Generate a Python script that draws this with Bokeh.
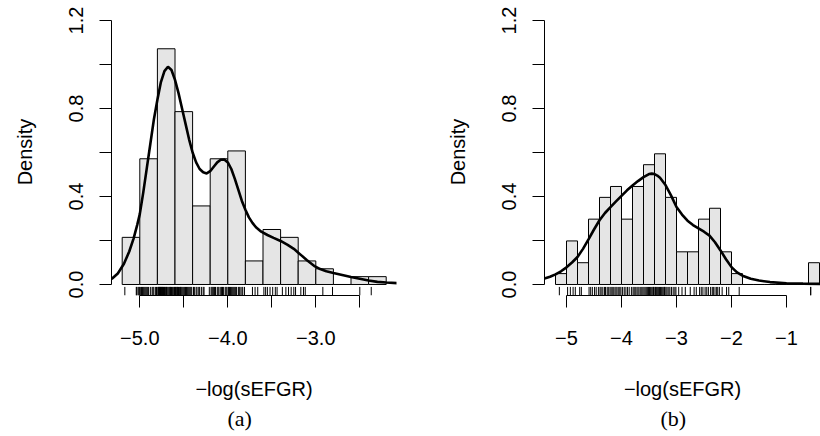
import math
from bokeh.plotting import figure
from bokeh.layouts import row
from bokeh.models import FixedTicker, Range1d, Title
from bokeh.embed import file_html
from bokeh.resources import INLINE

# ---------------- data ----------------
# Panel (a)
a_edges = [-5.2, -5.0, -4.8, -4.6, -4.4, -4.2, -4.0, -3.8, -3.6, -3.4, -3.2, -3.0, -2.8, -2.6, -2.4, -2.2]
a_counts = [6, 16, 30, 22, 10, 16, 17, 3, 7, 6, 3, 2, 0, 1, 1]
a_rug = [-5.17, -5.04, -5.035, -5.02, -5.01, -5.005,
         -4.99, -4.98, -4.97, -4.96, -4.95, -4.94, -4.93, -4.92, -4.91, -4.90, -4.88, -4.86, -4.85,
         -4.84, -4.82, -4.81,
         -4.795, -4.79, -4.785, -4.78, -4.775, -4.77, -4.765, -4.76, -4.755, -4.75, -4.745, -4.74,
         -4.735, -4.73, -4.72, -4.715, -4.71, -4.70, -4.695, -4.69, -4.68, -4.67, -4.66, -4.655,
         -4.65, -4.64, -4.63, -4.62, -4.61, -4.605,
         -4.595, -4.59, -4.58, -4.575, -4.57, -4.56, -4.55, -4.54, -4.535, -4.53, -4.52, -4.51,
         -4.50, -4.49, -4.48, -4.47, -4.46, -4.45, -4.44, -4.43, -4.42, -4.41,
         -4.39, -4.38, -4.36, -4.35, -4.33, -4.32, -4.30, -4.28, -4.27, -4.21,
         -4.19, -4.18, -4.17, -4.16, -4.15, -4.14, -4.12, -4.11, -4.10, -4.08, -4.07, -4.06, -4.05,
         -4.03, -4.02, -4.01,
         -3.995, -3.99, -3.98, -3.97, -3.96, -3.95, -3.94, -3.93, -3.92, -3.91, -3.90, -3.88, -3.87,
         -3.86, -3.84, -3.83, -3.81,
         -3.72, -3.69, -3.66,
         -3.59, -3.57, -3.55, -3.52, -3.49, -3.46, -3.44,
         -3.38, -3.34, -3.31, -3.28, -3.25, -3.23,
         -3.17, -3.14, -3.12,
         -2.92, -2.81,
         -2.50,
         -2.37]
a_dens_x = [-5.32, -5.25, -5.18, -5.12, -5.07, -5.03, -5.00, -4.96, -4.92, -4.88, -4.84, -4.80, -4.76,
            -4.72, -4.68, -4.64, -4.60, -4.56, -4.52, -4.48, -4.44, -4.40, -4.36, -4.32, -4.28, -4.24,
            -4.20, -4.16, -4.12, -4.08, -4.04, -4.00, -3.96, -3.92, -3.88, -3.84, -3.80, -3.76, -3.72,
            -3.68, -3.62, -3.55, -3.48, -3.40, -3.32, -3.25, -3.18, -3.10, -3.02, -2.95, -2.88, -2.80,
            -2.70, -2.60, -2.50, -2.40, -2.30, -2.20, -2.07]
a_dens_y = [0.025, 0.05, 0.094, 0.15, 0.21, 0.27, 0.32, 0.42, 0.53, 0.64, 0.75, 0.84, 0.92,
            0.97, 0.99, 0.975, 0.93, 0.87, 0.80, 0.73, 0.66, 0.60, 0.555, 0.525, 0.51, 0.505,
            0.515, 0.535, 0.555, 0.567, 0.568, 0.555, 0.525, 0.48, 0.43, 0.38, 0.34, 0.305, 0.28,
            0.26, 0.24, 0.225, 0.212, 0.198, 0.18, 0.162, 0.138, 0.11, 0.085, 0.07, 0.06, 0.052,
            0.043, 0.034, 0.026, 0.018, 0.012, 0.009, 0.006]
a_ticks = [-5.0, -4.5, -4.0, -3.5, -3.0, -2.5]
a_tick_labels = ["\u22125.0", "", "\u22124.0", "", "\u22123.0", ""]

# Panel (b)
b_edges = [-5.2, -5.0, -4.8, -4.6, -4.4, -4.2, -4.0, -3.8, -3.6, -3.4, -3.2, -3.0, -2.8, -2.6, -2.4,
           -2.2, -2.0, -1.8, -1.6, -1.4, -1.2, -1.0, -0.8, -0.6, -0.4]
b_counts = [1, 4, 2, 6, 8, 9, 6, 9, 11, 12, 8, 3, 3, 6, 7, 3, 1, 0, 0, 0, 0, 0, 0, 2]
b_rug = [-5.13,
         -4.98, -4.93, -4.88, -4.84,
         -4.76, -4.73,
         -4.59, -4.56, -4.53, -4.49, -4.46, -4.42,
         -4.39, -4.37, -4.34, -4.31, -4.29, -4.26, -4.24, -4.21,
         -4.19, -4.17, -4.15, -4.12, -4.10, -4.08, -4.05, -4.03, -4.01,
         -3.98, -3.95, -3.92, -3.89, -3.86, -3.82,
         -3.79, -3.77, -3.75, -3.72, -3.70, -3.68, -3.65, -3.63, -3.61,
         -3.59, -3.57, -3.55, -3.53, -3.51, -3.49, -3.47, -3.45, -3.43, -3.42, -3.41,
         -3.39, -3.38, -3.36, -3.35, -3.33, -3.31, -3.29, -3.27, -3.25, -3.23, -3.22, -3.21,
         -3.19, -3.17, -3.14, -3.12, -3.09, -3.06, -3.03, -3.01,
         -2.96, -2.90, -2.84,
         -2.75, -2.68, -2.64,
         -2.58, -2.55, -2.52, -2.48, -2.45, -2.42,
         -2.38, -2.35, -2.33, -2.30, -2.27, -2.25, -2.22,
         -2.17, -2.09, -2.05,
         -1.86,
         -0.56, -0.56]
b_dens_x = [-5.40, -5.30, -5.20, -5.10, -5.00, -4.90, -4.80, -4.70, -4.60, -4.50, -4.40, -4.30, -4.20,
            -4.10, -4.00, -3.90, -3.80, -3.70, -3.60, -3.50, -3.45, -3.40, -3.35, -3.30, -3.20, -3.10,
            -3.00, -2.90, -2.80, -2.70, -2.60, -2.50, -2.40, -2.30, -2.20, -2.10, -2.00, -1.90, -1.80,
            -1.65, -1.50, -1.30, -1.00, -0.70, -0.40, -0.38]
b_dens_y = [0.027, 0.035, 0.046, 0.06, 0.078, 0.10, 0.125, 0.162, 0.205, 0.25, 0.292, 0.325, 0.352,
            0.378, 0.403, 0.428, 0.45, 0.47, 0.488, 0.502, 0.504, 0.502, 0.495, 0.485, 0.452, 0.405,
            0.352, 0.318, 0.29, 0.27, 0.255, 0.24, 0.222, 0.192, 0.155, 0.115, 0.079, 0.055, 0.04,
            0.026, 0.018, 0.011, 0.006, 0.004, 0.003, 0.003]
b_ticks = [-5, -4, -3, -2, -1]
b_tick_labels = ["\u22125", "\u22124", "\u22123", "\u22122", "\u22121"]

y_ticks = [0.0, 0.2, 0.4, 0.6, 0.8, 1.0, 1.2]
y_tick_labels = ["0.0", "", "0.4", "", "0.8", "", "1.2"]

x_label = "\u2212log(sEFGR)"
SANS = "Liberation Sans"
SERIF = "Liberation Serif"

FIG_H = 436
FRAME_TOP = 8
FRAME_BOTTOM = 295


def panel(edges, counts, rug, dx, dy, ticks, tick_labels, x_start, x_end, frame_w, width, ml, tag):
    n = sum(counts)
    dens = [c / (n * (edges[i + 1] - edges[i])) for i, c in enumerate(counts)]
    p = figure(width=width, height=FIG_H, x_range=Range1d(x_start, x_end), y_range=Range1d(-0.05, 1.2545),
               output_backend="svg", toolbar_location=None,
               min_border_left=ml, min_border_right=width - ml - frame_w,
               min_border_top=FRAME_TOP, min_border_bottom=FIG_H - FRAME_BOTTOM)
    p.outline_line_color = None
    p.grid.visible = False
    p.background_fill_color = "white"
    p.border_fill_color = "white"

    p.quad(left=edges[:-1], right=edges[1:], bottom=0, top=dens,
           fill_color="#e5e5e5", line_color="black", line_width=1)
    p.segment(x0=rug, x1=rug, y0=-0.05, y1=-0.011, line_color="black", line_width=1)
    p.line(dx, dy, line_color="black", line_width=2.6)

    xa = p.xaxis[0]
    xa.ticker = FixedTicker(ticks=ticks, minor_ticks=[])
    xa.major_label_overrides = {t: l for t, l in zip(ticks, tick_labels)}
    xa.bounds = (ticks[0], ticks[-1])
    xa.major_tick_out = 12
    xa.major_tick_in = 0
    xa.minor_tick_out = 0
    xa.minor_tick_in = 0
    xa.major_label_standoff = 23
    xa.major_label_text_font = SANS
    xa.major_label_text_font_size = "20px"
    xa.major_label_text_color = "black"
    xa.axis_label = x_label
    xa.axis_label_text_font = SANS
    xa.axis_label_text_font_size = "20px"
    xa.axis_label_text_font_style = "normal"
    xa.axis_label_text_color = "black"
    xa.axis_label_standoff = 30
    xa.axis_line_color = "black"
    xa.major_tick_line_color = "black"

    ya = p.yaxis[0]
    ya.ticker = FixedTicker(ticks=y_ticks, minor_ticks=[])
    ya.major_label_overrides = {t: l for t, l in zip(y_ticks, y_tick_labels)}
    ya.bounds = (0, 1.2)
    ya.major_tick_out = 12
    ya.major_tick_in = 0
    ya.minor_tick_out = 0
    ya.minor_tick_in = 0
    ya.major_label_orientation = "vertical"
    ya.major_label_standoff = 16
    ya.major_label_text_font = SANS
    ya.major_label_text_font_size = "20px"
    ya.major_label_text_color = "black"
    ya.axis_label = "Density"
    ya.axis_label_text_font = SANS
    ya.axis_label_text_font_size = "20px"
    ya.axis_label_text_font_style = "normal"
    ya.axis_label_text_color = "black"
    ya.axis_label_standoff = 31
    ya.axis_line_color = "black"
    ya.major_tick_line_color = "black"

    p.add_layout(Title(text=tag, align="left", offset=116, text_font=SERIF,
                       text_font_size="22px", text_font_style="normal", text_color="black",
                       standoff=3), "below")
    return p


# frame placements (pixels) -> data ranges
p1 = panel(a_edges, a_counts, a_rug, a_dens_x, a_dens_y, a_ticks, a_tick_labels,
           -5.0 + (111 - 139.3) / 88.0, -5.0 + (396 - 139.3) / 88.0, 285, 418, 111, "(a)")
p2 = panel(b_edges, b_counts, b_rug, b_dens_x, b_dens_y, b_ticks, b_tick_labels,
           -5.0 + (544 - 566.0) / 55.0, -5.0 + (820 - 566.0) / 55.0, 276, 402, 126, "(b)")

layout = row(p1, p2)
open("out.html", "w").write(file_html(layout, INLINE))
